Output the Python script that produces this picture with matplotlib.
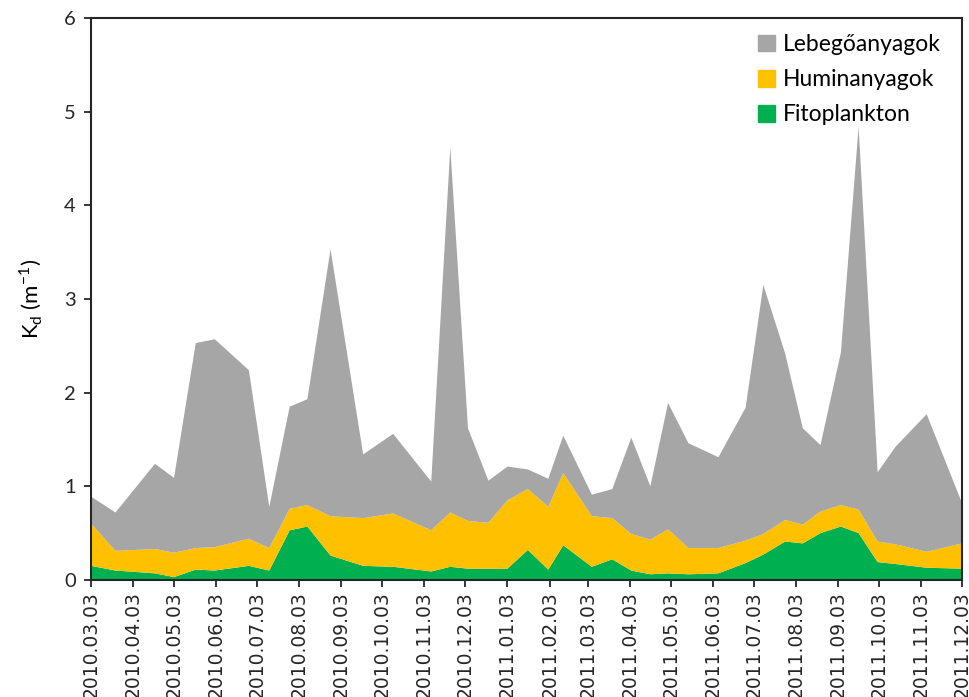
import matplotlib
matplotlib.use('Agg')
import matplotlib.pyplot as plt
import matplotlib.dates as mdates
import matplotlib.patches as mpatches
import numpy as np
import pandas as pd

plt.rcParams['font.family'] = ['Lato', 'DejaVu Sans']

# sampling dates
dates = ['2010-03-03', '2010-03-21', '2010-04-19', '2010-05-03', '2010-05-19',
         '2010-06-02', '2010-06-27', '2010-07-12', '2010-07-27', '2010-08-09',
         '2010-08-26', '2010-09-19', '2010-10-11', '2010-11-08', '2010-11-22',
         '2010-12-05', '2010-12-20', '2011-01-03', '2011-01-18', '2011-02-02',
         '2011-02-13', '2011-03-06', '2011-03-21', '2011-04-04', '2011-04-18',
         '2011-05-01', '2011-05-16', '2011-06-07', '2011-06-27', '2011-07-10',
         '2011-07-26', '2011-08-08', '2011-08-21', '2011-09-05', '2011-09-18',
         '2011-10-02', '2011-10-15', '2011-11-07', '2011-12-03']

# cumulative levels
top_total = [0.89, 0.72, 1.24, 1.09, 2.53, 2.57, 2.24, 0.78, 1.85, 1.93,
             3.53, 1.34, 1.56, 1.05, 4.62, 1.62, 1.06, 1.21, 1.18, 1.08,
             1.54, 0.91, 0.97, 1.52, 1.00, 1.89, 1.46, 1.31, 1.84, 3.15,
             2.42, 1.62, 1.44, 2.43, 4.84, 1.15, 1.42, 1.77, 0.82]
top_humin = [0.60, 0.31, 0.33, 0.29, 0.34, 0.35, 0.44, 0.34, 0.76, 0.80,
             0.68, 0.66, 0.71, 0.53, 0.72, 0.63, 0.61, 0.85, 0.97, 0.78,
             1.14, 0.68, 0.66, 0.49, 0.43, 0.54, 0.34, 0.34, 0.42, 0.49,
             0.64, 0.59, 0.73, 0.80, 0.75, 0.41, 0.38, 0.30, 0.39]
fito = [0.15, 0.10, 0.07, 0.03, 0.11, 0.10, 0.15, 0.10, 0.53, 0.57,
        0.26, 0.15, 0.14, 0.09, 0.14, 0.12, 0.12, 0.12, 0.32, 0.11,
        0.37, 0.14, 0.22, 0.10, 0.06, 0.07, 0.06, 0.07, 0.18, 0.27,
        0.41, 0.39, 0.50, 0.57, 0.50, 0.19, 0.17, 0.13, 0.12]

x = pd.to_datetime(dates)
humin = np.array(top_humin) - np.array(fito)
lebego = np.array(top_total) - np.array(top_humin)

colors = {'Lebegőanyagok': '#A6A6A6', 'Huminanyagok': '#FFC000', 'Fitoplankton': '#00B050'}

fig = plt.figure(figsize=(9.7, 6.97), dpi=100)
ax = fig.add_axes([0.0938, 0.168, 0.898, 0.806])

ax.stackplot(x, fito, humin, lebego,
             colors=[colors['Fitoplankton'], colors['Huminanyagok'], colors['Lebegőanyagok']],
             linewidth=0)

ax.set_ylim(0, 6)
ax.set_xlim(pd.Timestamp('2010-03-03'), pd.Timestamp('2011-12-03'))
ax.set_yticks(range(0, 7))

ticks = pd.date_range('2010-03-01', '2011-12-01', freq='MS') + pd.Timedelta(days=2)
ax.set_xticks(ticks)
ax.xaxis.set_major_formatter(mdates.DateFormatter('%Y.%m.%d'))

ax.tick_params(direction='out', length=5, width=1.3, colors='#262626')
ax.tick_params(axis='x', pad=3, labelsize=13.5, labelrotation=90)
ax.tick_params(axis='y', pad=6, labelsize=14.5)
for lab in ax.get_xticklabels():
    lab.set_fontfamily('DejaVu Sans')
for s in ax.spines.values():
    s.set_linewidth(1.5)
    s.set_color('#262626')

ax.set_ylabel('K$_\\mathregular{d}$ (m$^\\mathregular{-1}$)', fontsize=16, labelpad=14)

order = ['Lebegőanyagok', 'Huminanyagok', 'Fitoplankton']
patches = [mpatches.Patch(color=colors[k], label=k) for k in order]
ax.legend(handles=patches, loc='upper left', bbox_to_anchor=(0.755, 0.988), frameon=False,
          prop={'size': 16.5}, handlelength=0.75, handleheight=0.75,
          handletextpad=0.35, labelspacing=0.62, borderaxespad=0)

fig.savefig('out.png', dpi=100)
